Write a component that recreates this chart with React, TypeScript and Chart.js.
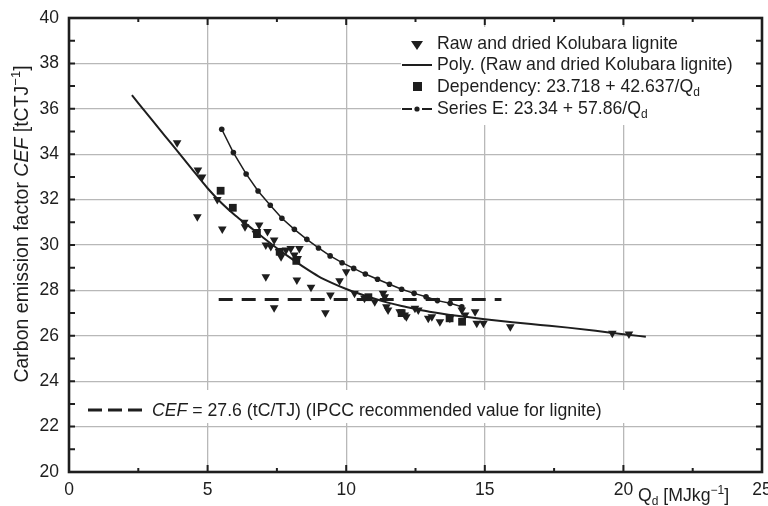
import React, { useEffect, useRef } from "react";
import { Chart, registerables } from "chart.js";

Chart.register(...registerables);

const FONT = '"Liberation Sans", Arial, Helvetica, sans-serif';
const INK = "#1e1e1e";
const GRID = "#b8b8b8";

// Axis ticks
const xTickValues = [0, 5, 10, 15, 20, 25];
const yTickValues = [20, 22, 24, 26, 28, 30, 32, 34, 36, 38, 40];

// Raw and dried Kolubara lignite (triangles)
const rawX = [3.9, 4.63, 4.65, 4.8, 5.35, 5.53, 6.32, 6.35, 6.74, 6.78, 6.86, 7.1, 7.16, 7.28, 7.4, 7.58, 7.65, 7.83, 8.0, 8.13, 8.25, 8.31, 7.1, 8.22, 8.73, 7.4, 9.25, 9.43, 9.76, 10.0, 10.3, 10.66, 11.03, 11.33, 11.39, 11.45, 11.51, 11.93, 12.11, 12.17, 12.48, 12.6, 12.96, 13.09, 13.38, 13.74, 14.17, 14.29, 14.65, 14.71, 14.95, 15.92, 19.6, 20.2];
const rawY = [34.5, 31.25, 33.3, 33.0, 32.0, 30.7, 31.0, 30.8, 30.52, 30.59, 30.88, 30.0, 30.59, 29.93, 30.22, 29.71, 29.48, 29.78, 29.85, 29.56, 29.41, 29.85, 28.6, 28.46, 28.14, 27.24, 27.02, 27.8, 28.43, 28.82, 27.87, 27.65, 27.5, 27.87, 27.72, 27.28, 27.14, 27.06, 26.92, 26.84, 27.21, 27.14, 26.77, 26.84, 26.62, 26.77, 27.14, 26.92, 27.06, 26.55, 26.55, 26.4, 26.11, 26.08];

// Poly. trend line
const polyX = [2.27, 3.0, 3.7, 4.4, 5.0, 5.5, 6.0, 6.5, 7.0, 7.5, 8.0, 8.5, 9.0, 9.5, 10.0, 10.5, 11.0, 11.5, 12.0, 12.5, 13.0, 14.0, 15.0, 16.0, 17.0, 18.0, 19.0, 20.0, 20.81];
const polyY = [36.6, 35.5, 34.45, 33.4, 32.5, 31.85, 31.3, 30.82, 30.33, 29.86, 29.42, 29.0, 28.62, 28.32, 28.06, 27.84, 27.64, 27.46, 27.31, 27.18, 27.06, 26.88, 26.73, 26.6, 26.48, 26.36, 26.22, 26.07, 25.96];

// Dependency: 23.718 + 42.637/Qd (squares)
const depX = [5.47, 5.91, 6.78, 7.6, 8.2, 10.8, 12.0, 13.73, 14.18];
const depY = [32.39, 31.64, 30.48, 29.7, 29.3, 27.7, 27.0, 26.77, 26.62];

// Series E: 23.34 + 57.86/Qd
const seX = [5.51, 5.93, 6.39, 6.82, 7.26, 7.68, 8.13, 8.58, 9.0, 9.42, 9.85, 10.27, 10.69, 11.13, 11.56, 12.0, 12.45, 12.88, 13.29, 13.75, 14.17];
const seY = [35.1, 34.07, 33.13, 32.38, 31.75, 31.18, 30.69, 30.25, 29.87, 29.52, 29.22, 28.97, 28.72, 28.49, 28.27, 28.05, 27.87, 27.72, 27.55, 27.43, 27.28];

// IPCC recommended value
const ipccX = [5.4, 15.6];
const ipccY = [27.6, 27.6];

type Part = { t: string; italic?: boolean; sup?: boolean; sub?: boolean };

function partFont(p: Part, size: number) {
  const s = p.sup || p.sub ? Math.round(size * 0.68) : size;
  return `${p.italic ? "italic " : ""}${s}px ${FONT}`;
}

function richWidth(ctx: CanvasRenderingContext2D, parts: Part[], size: number) {
  let w = 0;
  for (const p of parts) {
    ctx.font = partFont(p, size);
    w += ctx.measureText(p.t).width;
  }
  return w;
}

function drawRich(ctx: CanvasRenderingContext2D, parts: Part[], x: number, y: number, size: number) {
  let cx = x;
  ctx.textBaseline = "alphabetic";
  ctx.textAlign = "left";
  for (const p of parts) {
    ctx.font = partFont(p, size);
    const dy = p.sup ? -size * 0.42 : p.sub ? size * 0.25 : 0;
    ctx.fillText(p.t, cx, y + dy);
    cx += ctx.measureText(p.t).width;
  }
}

const decor = {
  id: "decor",
  beforeDatasetsDraw(chart: any) {
    const ctx: CanvasRenderingContext2D = chart.ctx;
    ctx.save();
    ctx.fillStyle = "#ffffff";
    ctx.fillRect(401, 27, 356, 98);
    ctx.fillRect(82, 390, 545, 33);
    ctx.restore();
  },
  afterDatasetsDraw(chart: any) {
    const ctx: CanvasRenderingContext2D = chart.ctx;
    const { left, right, top, bottom } = chart.chartArea;
    const xs = chart.scales.x;
    const ys = chart.scales.y;
    ctx.save();
    ctx.strokeStyle = INK;
    ctx.lineWidth = 2;
    for (let v = 0; v <= 25.001; v += 2.5) {
      const px = xs.getPixelForValue(v);
      const len = Math.abs(v % 5) < 0.01 ? 7 : 4;
      ctx.beginPath();
      ctx.moveTo(px, bottom);
      ctx.lineTo(px, bottom - len);
      ctx.moveTo(px, top);
      ctx.lineTo(px, top + len);
      ctx.stroke();
    }
    for (let v = 20; v <= 40; v += 1) {
      const py = ys.getPixelForValue(v);
      ctx.beginPath();
      ctx.moveTo(left, py);
      ctx.lineTo(left + 6, py);
      ctx.moveTo(right, py);
      ctx.lineTo(right - 6, py);
      ctx.stroke();
    }
    ctx.lineWidth = 2.6;
    ctx.strokeRect(left, top, right - left, bottom - top);
    ctx.restore();
  },
  afterDraw(chart: any) {
    const ctx: CanvasRenderingContext2D = chart.ctx;
    ctx.save();
    ctx.fillStyle = INK;
    ctx.strokeStyle = INK;
    const size = 17.7;

    // Legend (top right)
    ctx.beginPath();
    ctx.moveTo(411, 41);
    ctx.lineTo(423, 41);
    ctx.lineTo(417, 50);
    ctx.closePath();
    ctx.fill();
    drawRich(ctx, [{ t: "Raw and dried Kolubara lignite" }], 437, 49, size);
    ctx.lineWidth = 2;
    ctx.beginPath();
    ctx.moveTo(402, 65);
    ctx.lineTo(432, 65);
    ctx.stroke();
    drawRich(ctx, [{ t: "Poly. (Raw and dried Kolubara lignite)" }], 437, 70, size);
    ctx.fillRect(413, 82, 9, 9);
    drawRich(ctx, [{ t: "Dependency: 23.718 + 42.637/" }, { t: "Q" }, { t: "d", sub: true }], 437, 92, size);
    ctx.beginPath();
    ctx.moveTo(402, 109);
    ctx.lineTo(412, 109);
    ctx.moveTo(422, 109);
    ctx.lineTo(432, 109);
    ctx.stroke();
    ctx.beginPath();
    ctx.arc(417, 109, 2.6, 0, Math.PI * 2);
    ctx.fill();
    drawRich(ctx, [{ t: "Series E: 23.34 + 57.86/" }, { t: "Q" }, { t: "d", sub: true }], 437, 114, size);

    // Bottom legend
    ctx.lineWidth = 3;
    ctx.beginPath();
    for (const [a, b] of [[88, 102], [108, 122], [128, 142]]) {
      ctx.moveTo(a, 410);
      ctx.lineTo(b, 410);
    }
    ctx.stroke();
    drawRich(ctx, [{ t: "CEF", italic: true }, { t: " = 27.6 (tC/TJ) (IPCC recommended value for lignite)" }], 152, 416, size);

    // X title
    drawRich(ctx, [{ t: "Q" }, { t: "d", sub: true }, { t: " [MJkg" }, { t: "\u22121", sup: true }, { t: "]" }], 638, 501, size);

    // Y title
    const yParts: Part[] = [
      { t: "Carbon emission factor " },
      { t: "CEF", italic: true },
      { t: " [tCTJ" },
      { t: "\u22121", sup: true },
      { t: "]" },
    ];
    const tsize = 19.5;
    const w = richWidth(ctx, yParts, tsize);
    ctx.translate(28, 224);
    ctx.rotate(-Math.PI / 2);
    drawRich(ctx, yParts, -w / 2, 0, tsize);
    ctx.restore();
  },
};

export default function App() {
  const ref = useRef<HTMLCanvasElement>(null);
  useEffect(() => {
    const pts = (xs: number[], ys: number[]) => xs.map((x, i) => ({ x, y: ys[i] }));
    const chart = new Chart(ref.current as HTMLCanvasElement, {
      type: "scatter",
      data: {
        datasets: [
          {
            label: "IPCC",
            type: "line",
            data: pts(ipccX, ipccY),
            borderColor: INK,
            borderWidth: 3,
            borderDash: [14, 9],
            pointRadius: 0,
            order: 5,
          },
          {
            label: "Poly. (Raw and dried Kolubara lignite)",
            type: "line",
            data: pts(polyX, polyY),
            borderColor: INK,
            borderWidth: 2,
            pointRadius: 0,
            cubicInterpolationMode: "monotone",
            order: 4,
          },
          {
            label: "Series E",
            type: "line",
            data: pts(seX, seY),
            borderColor: INK,
            borderWidth: 1.5,
            pointRadius: 2.8,
            pointBackgroundColor: INK,
            pointBorderWidth: 0,
            order: 3,
          },
          {
            label: "Dependency",
            data: pts(depX, depY),
            pointStyle: "rect",
            pointRadius: 5.5,
            pointBackgroundColor: INK,
            pointBorderWidth: 0,
            order: 2,
          },
          {
            label: "Raw and dried Kolubara lignite",
            data: pts(rawX, rawY),
            pointStyle: "triangle",
            pointRotation: 180,
            pointRadius: 5,
            pointBackgroundColor: INK,
            pointBorderWidth: 0,
            order: 1,
          },
        ] as any,
      },
      options: {
        responsive: false,
        animation: false,
        events: [],
        layout: { padding: { left: 0, top: 18, right: 6, bottom: 0 } },
        plugins: { legend: { display: false }, tooltip: { enabled: false } },
        scales: {
          x: {
            type: "linear",
            min: 0,
            max: 25,
            afterBuildTicks: (s: any) => {
              s.ticks = xTickValues.map((v) => ({ value: v }));
            },
            ticks: { color: INK, font: { family: FONT, size: 17.5 }, padding: 8, maxRotation: 0, autoSkip: false },
            grid: { color: GRID, lineWidth: 1.3, drawTicks: false },
            border: { display: false },
            afterFit: (s: any) => {
              s.height = 34;
              s.paddingLeft = 0;
              s.paddingRight = 0;
            },
          },
          y: {
            type: "linear",
            min: 20,
            max: 40,
            afterBuildTicks: (s: any) => {
              s.ticks = yTickValues.map((v) => ({ value: v }));
            },
            ticks: { color: INK, font: { family: FONT, size: 17.5 }, padding: 10, autoSkip: false },
            grid: { color: GRID, lineWidth: 1.3, drawTicks: false },
            border: { display: false },
            afterFit: (s: any) => {
              s.width = 69;
              s.paddingTop = 0;
              s.paddingBottom = 0;
            },
          },
        },
      } as any,
      plugins: [decor],
    });
    return () => chart.destroy();
  }, []);
  return (
    <div style={{ position: "absolute", left: 0, top: 0, width: 768, height: 506, background: "#fff" }}>
      <canvas ref={ref} width={768} height={506} />
    </div>
  );
}
